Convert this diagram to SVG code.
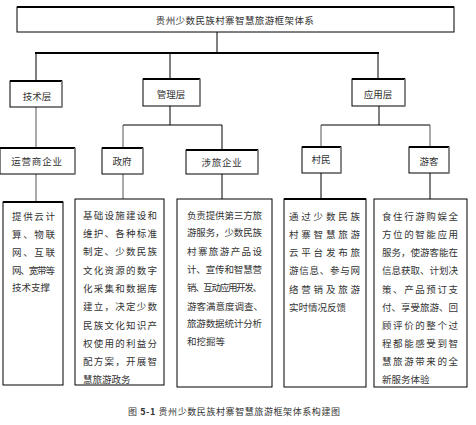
<svg xmlns="http://www.w3.org/2000/svg" width="476" height="425" viewBox="0 0 476 425">
<style>
.box{fill:#fff;stroke:#000;stroke-width:1}
.top{stroke:#000;stroke-width:2}
.side{stroke:#888;stroke-width:1.5}
.t{font-family:"Noto Sans CJK SC","Noto Sans",sans-serif;font-size:9.5px;fill:#333}
.h{font-family:"Noto Sans CJK SC","Noto Sans",sans-serif;font-size:9.5px;fill:#333;text-anchor:middle}
.c{stroke:#000;stroke-width:1;fill:none}
.cg{stroke:#555;stroke-width:1;fill:none}
</style>
<rect width="476" height="425" fill="#fff"/>
<g id="connectors">
<line class="c" x1="217" y1="32" x2="217" y2="53"/>
<line class="c" x1="35" y1="53" x2="379" y2="53" style="stroke-width:2"/>
<line class="c" x1="36" y1="53" x2="36" y2="81"/>
<line class="c" x1="170" y1="53" x2="170" y2="79"/>
<line class="c" x1="378" y1="53" x2="378" y2="79"/>
<line class="cg" x1="36" y1="107" x2="36" y2="148"/>
<line class="c" x1="170" y1="106" x2="170" y2="125"/>
<line class="c" x1="123" y1="125" x2="222" y2="125"/>
<line class="cg" x1="123" y1="125" x2="123" y2="148"/>
<line class="c" x1="222" y1="125" x2="222" y2="150"/>
<line class="c" x1="379" y1="106" x2="379" y2="125"/>
<line class="c" x1="321" y1="125" x2="430" y2="125"/>
<line class="cg" x1="321" y1="125" x2="321" y2="147"/>
<line class="cg" x1="430" y1="125" x2="430" y2="147"/>
<line class="cg" x1="36" y1="174" x2="36" y2="202"/>
<line class="cg" x1="123" y1="174" x2="123" y2="199"/>
<line class="c" x1="222" y1="174" x2="222" y2="199"/>
<line class="c" x1="321" y1="173" x2="321" y2="199"/>
<line class="c" x1="430" y1="173" x2="430" y2="199"/>
</g>
<g id="root">
<rect class="box" x="17" y="7" width="437" height="25"/>
<line class="top" x1="17" y1="7" x2="454" y2="7"/>
<text class="h" x="235" y="24" letter-spacing="0.4">贵州少数民族村寨智慧旅游框架体系</text>
</g>
<g id="tech">
<rect class="box" x="10" y="81" width="52" height="26"/>
<line class="top" x1="10" y1="81" x2="62" y2="81"/>
<line class="side" x1="62" y1="81" x2="62" y2="107"/>
<text class="h" x="37" y="100">技术层</text>
</g>
<g id="mgmt">
<rect class="box" x="143" y="79" width="57" height="27"/>
<line class="top" x1="143" y1="79" x2="200" y2="79"/>
<line class="side" x1="200" y1="79" x2="200" y2="106"/>
<text class="h" x="171" y="98">管理层</text>
</g>
<g id="app">
<rect class="box" x="352" y="79" width="53" height="27"/>
<line class="top" x1="352" y1="79" x2="405" y2="79"/>
<line class="side" x1="405" y1="79" x2="405" y2="106"/>
<text class="h" x="378" y="98">应用层</text>
</g>
<g id="operator">
<rect class="box" x="0" y="148" width="75" height="26"/>
<line class="top" x1="0" y1="148" x2="75" y2="148"/>
<line class="side" x1="75" y1="148" x2="75" y2="174"/>
<text class="h" x="37" y="165" letter-spacing="0.8">运营商企业</text>
</g>
<g id="gov">
<rect class="box" x="102" y="148" width="41" height="26"/>
<line class="top" x1="102" y1="148" x2="143" y2="148"/>
<line class="side" x1="143" y1="148" x2="143" y2="174"/>
<text class="h" x="122" y="165">政府</text>
</g>
<g id="tourcorp">
<rect class="box" x="186" y="150" width="72" height="24"/>
<line class="top" x1="186" y1="150" x2="258" y2="150"/>
<line class="side" x1="258" y1="150" x2="258" y2="174"/>
<text class="h" x="222" y="166" letter-spacing="0.8">涉旅企业</text>
</g>
<g id="villager">
<rect class="box" x="302" y="147" width="39" height="26"/>
<line class="top" x1="302" y1="147" x2="341" y2="147"/>
<line class="side" x1="341" y1="147" x2="341" y2="173"/>
<text class="h" x="321" y="163">村民</text>
</g>
<g id="tourist">
<rect class="box" x="409" y="147" width="40" height="26"/>
<line class="top" x1="409" y1="147" x2="449" y2="147"/>
<line class="side" x1="449" y1="147" x2="449" y2="173"/>
<text class="h" x="429" y="165">游客</text>
</g>
<g id="d1">
<rect class="box" x="3" y="202" width="60" height="183"/>
<line class="top" x1="3" y1="202" x2="63" y2="202"/>
<text class="t" x="12" y="219.5" textLength="43" lengthAdjust="spacing">提供云计</text>
<text class="t" x="12" y="237.8" textLength="43" lengthAdjust="spacing">算、物联</text>
<text class="t" x="12" y="255.8" textLength="43" lengthAdjust="spacing">网、互联</text>
<text class="t" x="12" y="273.5" textLength="43" lengthAdjust="spacing">网、宽带等</text>
<text class="t" x="12" y="291.2">技术支撑</text>
</g>
<g id="d2">
<rect class="box" x="75" y="199" width="89" height="186"/>
<text class="t" x="83" y="218.5" textLength="74" lengthAdjust="spacing">基础设施建设和</text>
<text class="t" x="83" y="236.8" textLength="74" lengthAdjust="spacing">维护、各种标准</text>
<text class="t" x="83" y="255.2" textLength="74" lengthAdjust="spacing">制定、少数民族</text>
<text class="t" x="83" y="273.5" textLength="74" lengthAdjust="spacing">文化资源的数字</text>
<text class="t" x="83" y="291.8" textLength="74" lengthAdjust="spacing">化采集和数据库</text>
<text class="t" x="83" y="310.2" textLength="74" lengthAdjust="spacing">建立，决定少数</text>
<text class="t" x="83" y="328.5" textLength="74" lengthAdjust="spacing">民族文化知识产</text>
<text class="t" x="83" y="346.8" textLength="74" lengthAdjust="spacing">权使用的利益分</text>
<text class="t" x="83" y="364.5" textLength="74" lengthAdjust="spacing">配方案，开展智</text>
<text class="t" x="83" y="382.5">慧旅游政务</text>
</g>
<g id="d3">
<rect class="box" x="177" y="199" width="95" height="188"/>
<text class="t" x="187" y="218.5" textLength="75" lengthAdjust="spacing">负责提供第三方旅</text>
<text class="t" x="187" y="236.2" textLength="75" lengthAdjust="spacing">游服务，少数民族</text>
<text class="t" x="187" y="254.5" textLength="75" lengthAdjust="spacing">村寨旅游产品设</text>
<text class="t" x="187" y="272.8" textLength="75" lengthAdjust="spacing">计、宣传和智慧营</text>
<text class="t" x="187" y="291.2" textLength="75" lengthAdjust="spacing">销、互动应用开发、</text>
<text class="t" x="187" y="309.5">游客满意度调查、</text>
<text class="t" x="187" y="326.8" textLength="75" lengthAdjust="spacing">旅游数据统计分析</text>
<text class="t" x="187" y="345.2">和挖掘等</text>
</g>
<g id="d4">
<rect class="box" x="284" y="199" width="82" height="188"/>
<line class="top" x1="284" y1="199" x2="366" y2="199"/>
<text class="t" x="289" y="219.5" textLength="71" lengthAdjust="spacing">通过少数民族</text>
<text class="t" x="289" y="237.8" textLength="71" lengthAdjust="spacing">村寨智慧旅游</text>
<text class="t" x="289" y="255.8" textLength="71" lengthAdjust="spacing">云平台发布旅</text>
<text class="t" x="289" y="274.2" textLength="71" lengthAdjust="spacing">游信息、参与网</text>
<text class="t" x="289" y="292.8" textLength="71" lengthAdjust="spacing">络营销及旅游</text>
<text class="t" x="289" y="310.8">实时情况反馈</text>
</g>
<g id="d5">
<rect class="box" x="374" y="199" width="93" height="188"/>
<text class="t" x="382" y="219.5" textLength="76" lengthAdjust="spacing">食住行游购娱全</text>
<text class="t" x="382" y="237.8" textLength="76" lengthAdjust="spacing">方位的智能应用</text>
<text class="t" x="382" y="255.8" textLength="76" lengthAdjust="spacing">服务，使游客能在</text>
<text class="t" x="382" y="274.2" textLength="76" lengthAdjust="spacing">信息获取、计划决</text>
<text class="t" x="382" y="292.8" textLength="76" lengthAdjust="spacing">策、产品预订支</text>
<text class="t" x="382" y="310.8" textLength="76" lengthAdjust="spacing">付、享受旅游、回</text>
<text class="t" x="382" y="328.5" textLength="76" lengthAdjust="spacing">顾评价的整个过</text>
<text class="t" x="382" y="346.8" textLength="76" lengthAdjust="spacing">程都能感受到智</text>
<text class="t" x="382" y="365.2" textLength="76" lengthAdjust="spacing">慧旅游带来的全</text>
<text class="t" x="382" y="382.8">新服务体验</text>
</g>
<text x="128" y="414.5" font-family="'Noto Sans CJK SC','Noto Sans',sans-serif" font-size="9" fill="#333" textLength="212" lengthAdjust="spacing">图 <tspan font-weight="bold">5-1</tspan> 贵州少数民族村寨智慧旅游框架体系构建图</text>
</svg>
